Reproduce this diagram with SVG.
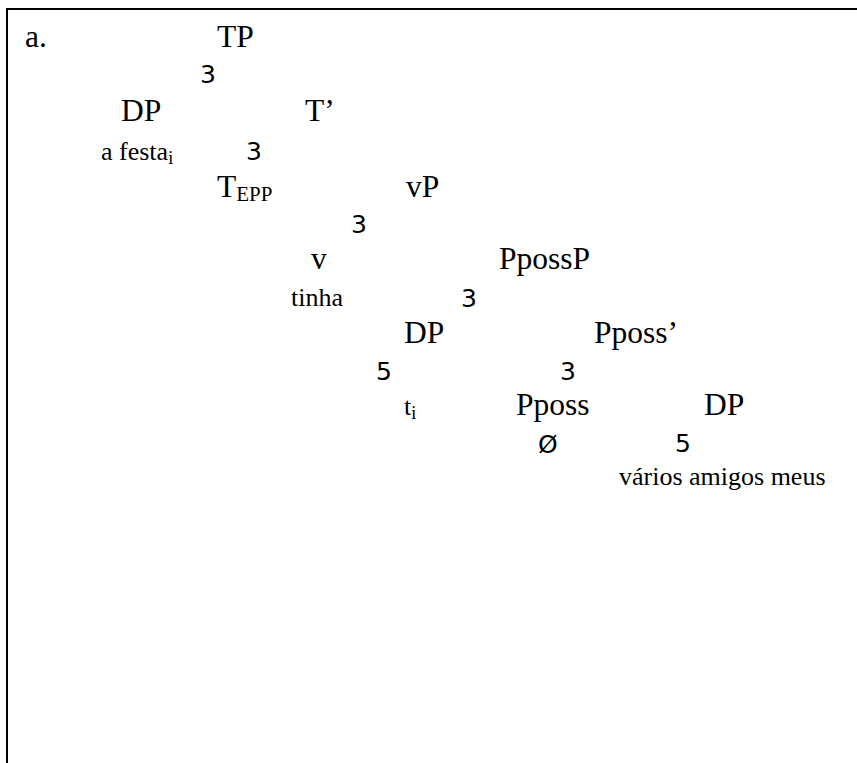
<svg xmlns="http://www.w3.org/2000/svg" width="857" height="763" viewBox="0 0 857 763">
<style>
.n{font-family:"Liberation Serif","Times New Roman",serif;font-size:31.5px;fill:#000}
.s{font-family:"Liberation Serif","Times New Roman",serif;font-size:26px;fill:#000}
.sub{font-size:21px}
.sub2{font-size:18px}
.c{font-family:"DejaVu Sans",sans-serif;font-size:25px;fill:#000}
</style>
<rect width="857" height="763" fill="#fff"/>
<path d="M7,763 V9 H857" fill="none" stroke="#000" stroke-width="2"/>
<text class="n" x="25" y="47">a.</text>
<g id="TP"><text class="n" x="217" y="47">TP</text></g>
<g id="DP1"><text class="n" x="121" y="121">DP</text><text class="s" x="101" y="160">a festa<tspan class="sub2" dy="4">i</tspan></text></g>
<g id="Tbar"><text class="n" x="305" y="121">T’</text></g>
<g id="TEPP"><text class="n" x="217" y="197">T<tspan class="sub" dy="4">EPP</tspan></text></g>
<g id="vP"><text class="n" x="406" y="197">vP</text></g>
<g id="v"><text class="n" x="311" y="269">v</text><text class="s" x="291" y="306">tinha</text></g>
<g id="PpossP"><text class="n" x="499" y="269">PpossP</text></g>
<g id="DP2"><text class="n" x="404" y="343">DP</text><text class="s" x="404" y="415">t<tspan class="sub2" dy="4">i</tspan></text></g>
<g id="Pposs1"><text class="n" x="594" y="343">Pposs’</text></g>
<g id="Pposs"><text class="n" x="516" y="415">Pposs</text><text class="c" x="538" y="453">Ø</text></g>
<g id="DP3"><text class="n" x="704" y="415">DP</text><text class="s" x="619" y="485">vários amigos meus</text></g>
<g id="connectors">
<text class="c" x="200" y="83">3</text>
<text class="c" x="246" y="160">3</text>
<text class="c" x="351" y="233">3</text>
<text class="c" x="461" y="307">3</text>
<text class="c" x="376" y="380">5</text>
<text class="c" x="560" y="380">3</text>
<text class="c" x="675" y="452">5</text>
</g>
</svg>
